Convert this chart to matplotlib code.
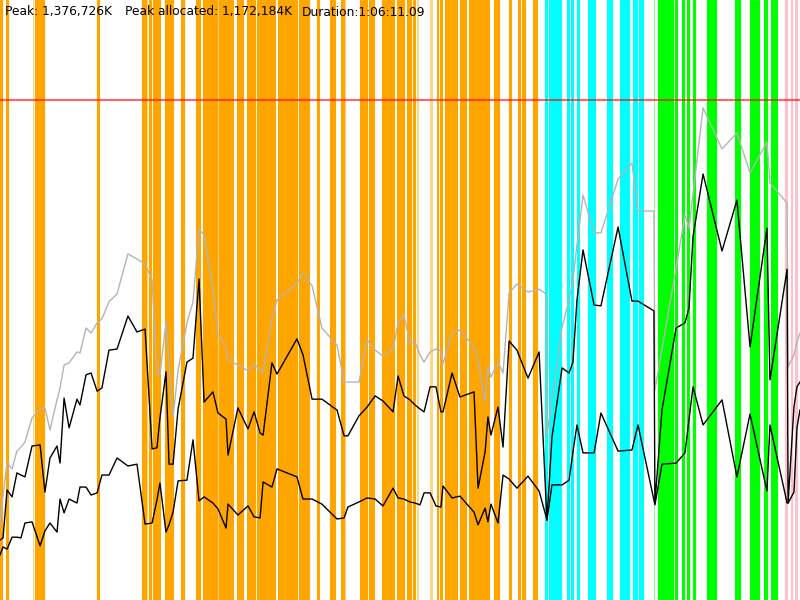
import matplotlib
matplotlib.use("Agg")
import matplotlib.pyplot as plt

# run summary
peak_k = 1376726
peak_alloc_k = 1172184
duration_s = 3971.09
duration_txt = "1:06:11.09"

# sample times (s) and heap values (MB, 1 MB = 1000K)
t_sec = [0, 15, 35, 60, 84, 104, 124, 159, 199, 223, 248, 283, 298, 318, 343,
         382, 397, 427, 452, 482, 506, 541, 581, 635, 680, 720, 755, 779, 794,
         824, 839, 859, 884, 928, 958, 988, 1013, 1057, 1082, 1122, 1132, 1181,
         1231, 1261, 1291, 1306, 1350, 1375, 1474, 1504, 1549, 1598, 1673, 1708,
         1727, 1782, 1822, 1862, 1901, 1951, 1976, 2005, 2035, 2060, 2085, 2105,
         2135, 2164, 2189, 2199, 2244, 2283, 2353, 2373, 2408, 2422, 2437, 2472,
         2497, 2527, 2566, 2621, 2676, 2710, 2715, 2740, 2790, 2825, 2844, 2864,
         2894, 2949, 2983, 3068, 3137, 3167, 3246, 3251, 3286, 3356, 3400, 3420,
         3440, 3490, 3584, 3658, 3723, 3807, 3822, 3907, 3912, 3941, 3956, 3971]

heap_total = [207, 289, 377, 361, 410, 421, 435, 501, 526, 529, 468, 551, 584, 647, 653,
              683, 680, 749, 735, 763, 774, 821, 843, 953, 939, 925, 881, 622, 622,
              763, 653, 504, 633, 763, 821, 1022, 1005, 854, 730, 697, 661, 647,
              631, 650, 633, 625, 776, 826, 873, 900, 865, 749, 702, 600,
              600, 600, 716, 688, 672, 691, 763, 785, 708, 710, 675, 655,
              683, 691, 686, 650, 735, 743, 697, 661, 545, 644, 614, 655,
              625, 845, 870, 848, 856, 843, 454, 551, 752, 826, 881, 977,
              1115, 1011, 1011, 1159, 1203, 1071, 1071, 578, 691, 914, 1060, 1024,
              1118, 1355, 1242, 1286, 1176, 1261, 1148, 1093, 642, 675, 710, 735]

heap_used = [165, 171, 303, 284, 350, 344, 339, 424, 427, 297, 391, 424, 377, 556, 474,
             553, 537, 620, 625, 575, 584, 688, 691, 782, 738, 746, 416, 419, 501,
             628, 374, 374, 526, 655, 666, 884, 545, 573, 515, 498, 399, 529,
             471, 518, 460, 454, 653, 622, 719, 675, 553, 553, 523, 452,
             452, 507, 531, 562, 548, 518, 617, 562, 551, 537, 526, 518,
             587, 587, 518, 518, 625, 559, 573, 308, 408, 504, 454, 531,
             421, 713, 688, 611, 683, 278, 220, 449, 639, 625, 655, 826,
             964, 812, 810, 1027, 823, 823, 796, 267, 523, 749, 763, 804,
             1000, 1173, 961, 1101, 697, 1024, 606, 911, 267, 531, 587, 600]

heap_live = [124, 146, 140, 173, 173, 171, 212, 215, 149, 190, 212, 187, 278, 240, 278,
             267, 311, 311, 289, 295, 344, 344, 391, 369, 374, 209, 212, 275, 322,
             187, 207, 242, 328, 330, 441, 273, 284, 267, 251, 198, 264, 234,
             259, 229, 226, 325, 311, 361, 339, 278, 278, 264, 223, 226,
             256, 270, 281, 278, 259, 308, 281, 278, 270, 267, 262, 295,
             295, 259, 256, 314, 281, 286, 242, 207, 253, 215, 264, 212,
             344, 333, 308, 341, 300, 231, 220, 317, 317, 330, 408, 482,
             405, 405, 515, 410, 413, 482, 275, 262, 374, 377, 405, 496,
             587, 482, 551, 339, 512, 300, 482, 267, 267, 297, 474, 523]

# collection events (start s, end s)
young_gc = [(0, 10), (30, 40), (174, 184), (189, 218), (482, 489), (705, 725),
            (740, 750), (760, 774), (779, 794), (819, 828), (830, 859), (898, 913),
            (973, 993), (1008, 1077), (1087, 1137), (1142, 1157), (1176, 1186),
            (1191, 1206), (1226, 1266), (1276, 1301), (1306, 1365), (1380, 1405),
            (1410, 1440), (1445, 1454), (1459, 1474), (1484, 1524), (1529, 1534),
            (1574, 1584), (1638, 1653), (1658, 1663), (1693, 1708), (1787, 1797),
            (1802, 1822), (1832, 1857), (1896, 1906), (1911, 1946), (1951, 1956),
            (1971, 2005), (2020, 2025), (2030, 2040), (2050, 2060), (2169, 2174),
            (2184, 2194), (2209, 2224), (2229, 2269), (2283, 2313), (2328, 2427),
            (2452, 2477), (2527, 2537), (2571, 2581), (2591, 2606), (2646, 2666)]
young_gc_short = [(166, 171), (731, 734), (1080, 1085), (1713, 1716),
                  (2068, 2078), (2136, 2148)]
mixed_gc = [(2705, 2715), (2725, 2750), (2755, 2775), (2777, 2785), (2815, 2825),
            (2834, 2844), (2864, 2874), (2919, 2954), (3013, 3038), (3078, 3088),
            (3090, 3112), (3115, 3122), (3142, 3162), (3172, 3192)]
full_gc = [(3266, 3291), (3296, 3331), (3333, 3341), (3351, 3361), (3385, 3395),
           (3410, 3420), (3440, 3450), (3510, 3539), (3541, 3554), (3648, 3673),
           (3723, 3733), (3738, 3758), (3763, 3768), (3792, 3807), (3827, 3857)]
full_gc_short = [(3244, 3250)]
other_gc = [(3897, 3907), (3927, 3932), (3946, 3956)]

fig = plt.figure(figsize=(8, 6), dpi=100)
ax = fig.add_axes([0, 0, 1, 1])

for events, col, a, ew in [(young_gc, "orange", 1.0, 0.8),
                           (young_gc_short, "orange", 0.45, 0),
                           (mixed_gc, "cyan", 1.0, 0.8),
                           (full_gc, "lime", 1.0, 0.8),
                           (full_gc_short, "lime", 0.45, 0),
                           (other_gc, "pink", 1.0, 0.8)]:
    for s, e in events:
        ax.axvspan(s, e, facecolor=col, edgecolor=col, alpha=a, lw=ew)

peak_mb = peak_k / 1000
ax.axhline(peak_mb, color="red", alpha=0.6, lw=1.5)

ax.plot(t_sec, heap_total, color="#b4b4b4", lw=1)
ax.plot(t_sec, heap_used, color="black", lw=1)
ax.plot(t_sec, heap_live, color="black", lw=1)

ax.set_xlim(0, duration_s)
ax.set_ylim(0, peak_mb * 1.2)
ax.axis("off")

top = 1 - 12 / 600
fig.text(5 / 800, top, f"Peak: {peak_k:,}K", fontsize=8.8, va="center")
fig.text(125 / 800, top, f"Peak allocated: {peak_alloc_k:,}K", fontsize=8.8, va="center")
fig.text(302 / 800, top, f"Duration:{duration_txt}", fontsize=8.8, va="center")

fig.savefig("out.png", dpi=100)
